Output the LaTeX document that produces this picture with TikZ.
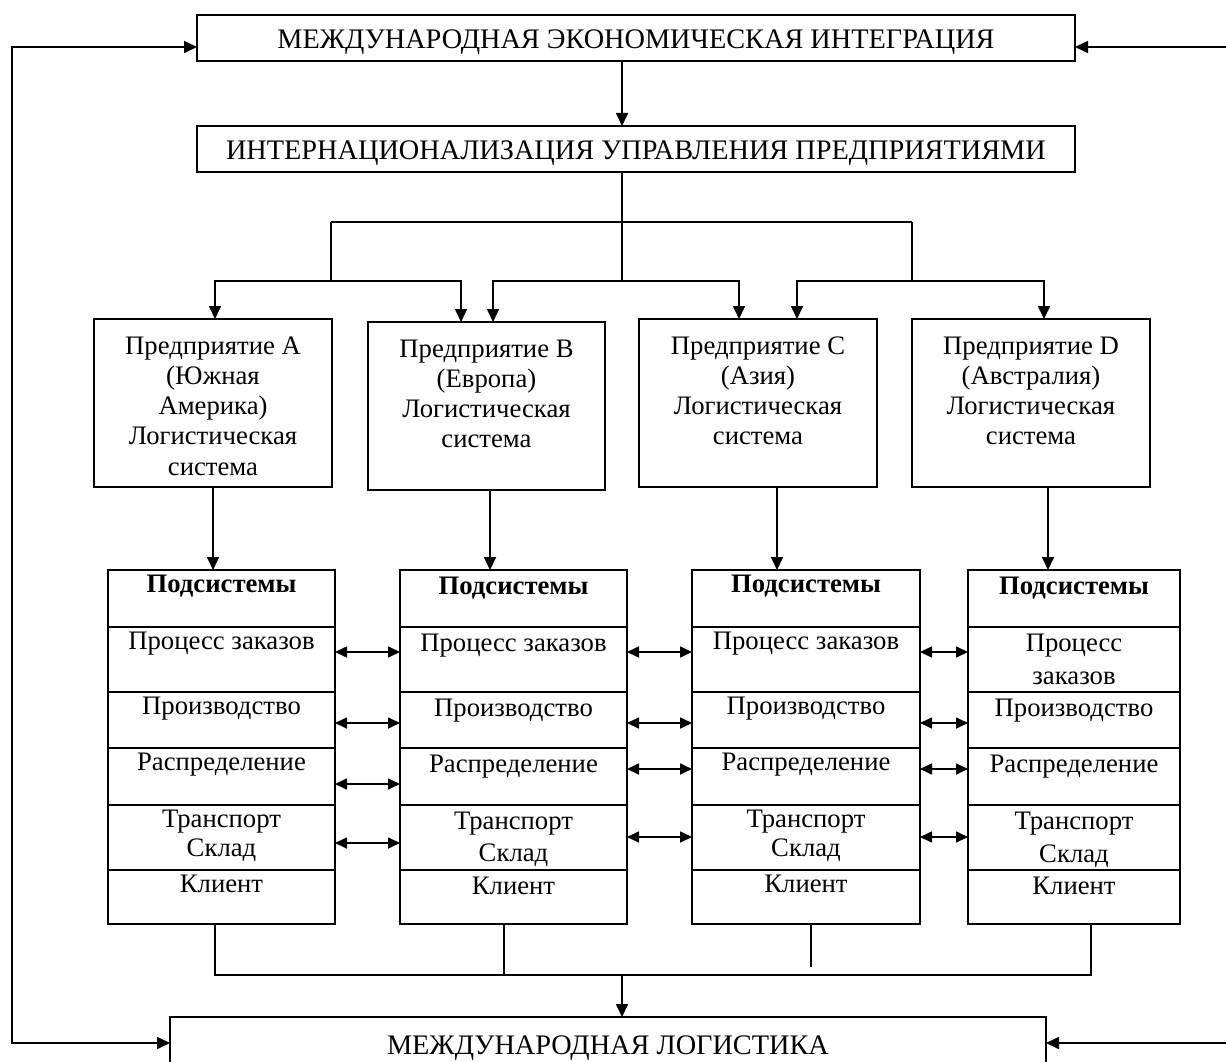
\documentclass[tikz,border=0pt]{standalone}
\usepackage{fontspec}
\setmainfont{Liberation Serif}
\usetikzlibrary{arrows.meta,calc}
\newcommand{\cellt}[5]{\parbox[c][#2][t]{#1}{\fontsize{26.7}{#5}\selectfont\centering\rule{0pt}{#3}#4\par}}
\begin{document}
\begin{tikzpicture}[x=1pt,y=-1pt,
  every node/.style={inner sep=0pt, outer sep=0pt},
  box/.style={draw, line width=1.7pt},
  bigbox/.style={box, minimum height=46pt, text height=21pt, text depth=0pt, font=\fontsize{28.3}{32}\selectfont},
  ln/.style={line width=1.7pt},
  arr/.style={ln, -{Triangle[length=13pt,width=12pt]}},
  darr/.style={ln, {Triangle[length=12pt,width=11pt]}-{Triangle[length=12pt,width=11pt]}}]
\useasboundingbox (0,0) rectangle (1226,1062);

% top boxes
\node[bigbox, minimum width=878pt, anchor=north west] (mei) at (197,15) {МЕЖДУНАРОДНАЯ ЭКОНОМИЧЕСКАЯ ИНТЕГРАЦИЯ};
\node[bigbox, minimum width=878pt, anchor=north west] (inter) at (197,126) {ИНТЕРНАЦИОНАЛИЗАЦИЯ УПРАВЛЕНИЯ ПРЕДПРИЯТИЯМИ};

% enterprise boxes
\node[box, anchor=north west] (eA) at (94,319) {\cellt{238pt}{168pt}{35pt}{Предприятие A\\(Южная\\Америка)\\Логистическая\\система}{30.3pt}};
\node[box, anchor=north west] (eB) at (368,322) {\cellt{237pt}{168pt}{35pt}{Предприятие B\\(Европа)\\Логистическая\\система}{30pt}};
\node[box, anchor=north west] (eC) at (639,319) {\cellt{238pt}{168pt}{35pt}{Предприятие C\\(Азия)\\Логистическая\\система}{30.3pt}};
\node[box, anchor=north west] (eD) at (912,319) {\cellt{238pt}{168pt}{35pt}{Предприятие D\\(Австралия)\\Логистическая\\система}{30pt}};

% subsystem columns: #1 name, #2 x, #3 width, #4 order text, #5 first-line height, #6 line spacing
\newcommand{\subsys}[6]{%
 \node[box, anchor=north west] (#1h) at (#2,570) {\cellt{#3pt}{57pt}{#5}{\bfseries Подсистемы}{#6}};
 \node[box, anchor=north west] (#12) at (#2,627) {\cellt{#3pt}{65pt}{#5}{#4}{#6}};
 \node[box, anchor=north west] (#13) at (#2,692) {\cellt{#3pt}{56pt}{#5}{Производство}{#6}};
 \node[box, anchor=north west] (#14) at (#2,748) {\cellt{#3pt}{57pt}{#5}{Распределение}{#6}};
 \node[box, anchor=north west] (#15) at (#2,805) {\cellt{#3pt}{65pt}{#5}{Транспорт\\Склад}{#6}};
 \node[box, anchor=north west] (#16) at (#2,870) {\cellt{#3pt}{54pt}{#5}{Клиент}{#6}};
}
\subsys{sA}{108}{227}{Процесс заказов}{22pt}{29pt}
\subsys{sB}{400}{227}{Процесс заказов}{24pt}{32pt}
\subsys{sC}{692}{228}{Процесс заказов}{22pt}{29pt}
\subsys{sD}{968}{212}{Процесс\\заказов}{24pt}{33pt}

% bottom box
\node[bigbox, minimum width=876pt, minimum height=53pt, anchor=north west] (il) at (170,1017) {МЕЖДУНАРОДНАЯ ЛОГИСТИКА};

% top connectors
\draw[arr] ([xshift=-14pt]mei.south) -- ([xshift=-14pt]inter.north);
\coordinate (c1L) at (331,222);
\coordinate (c1R) at (912,222);
\coordinate (c2L) at (331,281);
\coordinate (c2M) at (622,281);
\coordinate (c2R) at (912,281);
\coordinate (pA) at (215,281);
\coordinate (pB1) at (461,281);
\coordinate (pB2) at (493,281);
\coordinate (pC1) at (739,281);
\coordinate (pC2) at (797,281);
\coordinate (pD) at (1044,281);
\draw[ln] ([xshift=-14pt]inter.south) -- (c2M);
\draw[ln] (c1L) -- (c1R);
\draw[ln] (c1L) -- (c2L);
\draw[ln] (c1R) -- (c2R);
\draw[arr] (c2L) -- (pA) -- (pA |- eA.north);
\draw[arr] (c2L) -- (pB1) -- (pB1 |- eB.north);
\draw[arr] (c2M) -- (pB2) -- (pB2 |- eB.north);
\draw[arr] (c2M) -- (pC1) -- (pC1 |- eC.north);
\draw[arr] (c2R) -- (pC2) -- (pC2 |- eC.north);
\draw[arr] (c2R) -- (pD) -- (pD |- eD.north);

% enterprise to subsystems
\draw[arr] (eA.south) -- (eA.south |- sAh.north);
\draw[arr] ([xshift=3.5pt]eB.south) -- ([xshift=3.5pt]eB.south |- sBh.north);
\draw[arr] ([xshift=19pt]eC.south) -- ([xshift=19pt]eC.south |- sCh.north);
\draw[arr] ([xshift=17pt]eD.south) -- ([xshift=17pt]eD.south |- sDh.north);

% double arrows between subsystems
\draw[darr] ([yshift=7.5pt]sA2.east) -- ([yshift=7.5pt]sB2.west);
\draw[darr] ([yshift=-3pt]sA3.east) -- ([yshift=-3pt]sB3.west);
\draw[darr] ([yshift=-7.5pt]sA4.east) -- ([yshift=-7.5pt]sB4.west);
\draw[darr] ([yshift=-5.5pt]sA5.east) -- ([yshift=-5.5pt]sB5.west);
\draw[darr] ([yshift=7.5pt]sB2.east) -- ([yshift=7.5pt]sC2.west);
\draw[darr] ([yshift=-3pt]sB3.east) -- ([yshift=-3pt]sC3.west);
\draw[darr] ([yshift=7.5pt]sB4.east) -- ([yshift=7.5pt]sC4.west);
\draw[darr] ([yshift=0.5pt]sB5.east) -- ([yshift=0.5pt]sC5.west);
\draw[darr] ([yshift=7.5pt]sC2.east) -- ([yshift=7.5pt]sD2.west);
\draw[darr] ([yshift=-3pt]sC3.east) -- ([yshift=-3pt]sD3.west);
\draw[darr] ([yshift=7.5pt]sC4.east) -- ([yshift=7.5pt]sD4.west);
\draw[darr] ([yshift=0.5pt]sC5.east) -- ([yshift=0.5pt]sD5.west);

% bottom connectors
\coordinate (q1) at (215,975);
\coordinate (q2) at (1091,975);
\coordinate (qm) at (622,975);
\coordinate (qC) at (811,967);
\draw[ln] ([xshift=-6.5pt]sA6.south) -- (q1) -- (q2) -- ([xshift=17pt]sD6.south);
\draw[ln] ([xshift=-9.5pt]sB6.south) -- ([xshift=-9.5pt]sB6.south |- q1);
\draw[ln] ([xshift=5pt]sC6.south) -- (qC);
\draw[arr] (qm) -- (qm |- il.north);

% feedback loops
\coordinate (lt) at (12,47);
\coordinate (lb) at (12,1043);
\coordinate (rt) at (1240,47);
\coordinate (rb) at (1240,1043);
\draw[arr, {Triangle[length=13pt,width=12pt]}-{Triangle[length=13pt,width=12pt]}] (mei.west |- lt) -- (lt) -- (lb) -- (il.west |- lb);
\draw[arr, {Triangle[length=13pt,width=12pt]}-{Triangle[length=13pt,width=12pt]}] (mei.east |- rt) -- (rt) -- (rb) -- (il.east |- rb);
\end{tikzpicture}
\end{document}
